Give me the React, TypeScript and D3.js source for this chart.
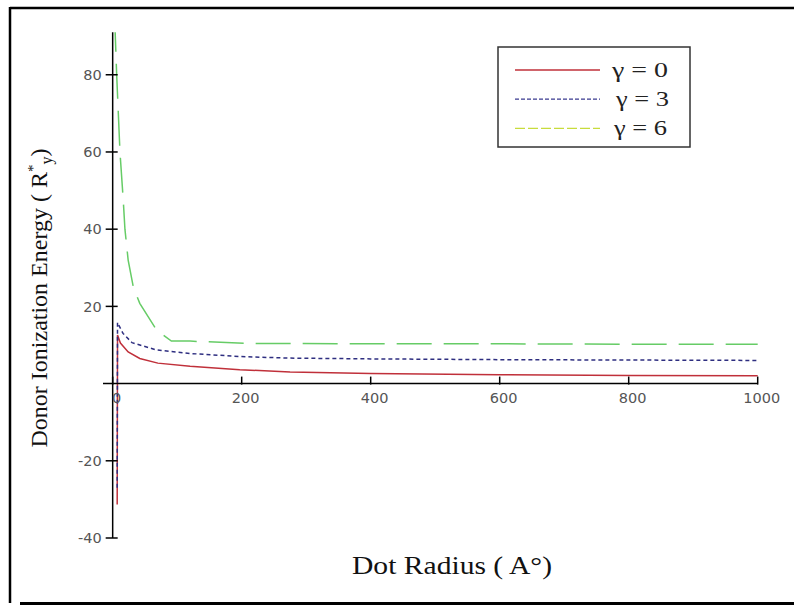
import * as d3 from "d3";

// series (dot radius in A°, energy in R*y)
const redRadius = [7, 7.5, 12, 24, 42, 70, 120, 197, 275, 400, 600, 800, 1000];
const redEnergy = [-31.3, 12.6, 10.5, 8.2, 6.5, 5.3, 4.5, 3.6, 3.0, 2.6, 2.3, 2.1, 2.0];

const blueRadius = [7, 7.5, 16, 30, 68, 120, 197, 275, 400, 600, 800, 1000];
const blueEnergy = [-27, 15.8, 13, 10.6, 8.7, 7.8, 7.0, 6.6, 6.4, 6.2, 6.1, 6.0];

const greenRadius = [3, 6.2, 11.3, 16.4, 19, 24, 32, 42, 68, 91, 120, 213, 400, 600, 800, 1000];
const greenEnergy = [95, 80, 60, 47.5, 40, 32, 25, 20.8, 13.9, 11.0, 11.0, 10.4, 10.3, 10.3, 10.2, 10.2];

const legendLabels = ["γ = 0", "γ = 3", "γ = 6"];
const xTicks = [0, 200, 400, 600, 800, 1000];
const yTicks = [-40, -20, 20, 40, 60, 80];

const W = 794;
const H = 605;

const x = d3.scaleLinear().domain([-15, 1000]).range([103, 757.7]);
const y = d3.scaleLinear().domain([-40, 91]).range([538, 32.3]);

const toPts = (xs: number[], ys: number[]) => xs.map((v, i) => [v, ys[i]] as [number, number]);

const line = d3
  .line<[number, number]>()
  .x((d) => x(d[0]))
  .y((d) => y(d[1]));

const series = [
  { pts: toPts(redRadius, redEnergy), color: "#c0303a", dash: "none", legColor: "#c0303a", legDash: "none" },
  { pts: toPts(blueRadius, blueEnergy), color: "#2e2e80", dash: "4,3", legColor: "#3a3a90", legDash: "4,2" },
  { pts: toPts(greenRadius, greenEnergy), color: "#66cc66", dash: "35,12", legColor: "#c8dc3c", legDash: "10,3" },
];

export default function App() {
  const x0 = x(0);
  const y0 = y(0);
  return (
    <svg width={W} height={H} style={{ position: "absolute", left: 0, top: 0, background: "#fff" }}>
      <defs>
        <clipPath id="plotClip">
          <rect x={x(-15)} y={y(91)} width={x(1000) - x(-15) + 2} height={y(-40) - y(91)} />
        </clipPath>
      </defs>
      {/* frame */}
      <line x1={10} y1={8} x2={W} y2={8} stroke="#000" strokeWidth={2.5} />
      <line x1={10} y1={7} x2={10} y2={603} stroke="#000" strokeWidth={2.5} />
      <line x1={20} y1={603.5} x2={W} y2={603.5} stroke="#000" strokeWidth={3} />

      {/* curves */}
      <g clipPath="url(#plotClip)" fill="none">
        {series.map((s, i) => (
          <path key={i} d={line(s.pts) ?? ""} stroke={s.color} strokeWidth={1.5} strokeDasharray={s.dash} />
        ))}
      </g>

      {/* axes */}
      <g stroke="#000" strokeWidth={1.5}>
        <line x1={x0} y1={y(91)} x2={x0} y2={y(-40)} />
        <line x1={x(-15)} y1={y0} x2={x(1000)} y2={y0} />
        {yTicks.map((t) => (
          <line key={t} x1={x0 - 7} x2={x0 + 5} y1={y(t)} y2={y(t)} />
        ))}
        {xTicks.map((t) => (
          <line key={t} x1={x(t)} x2={x(t)} y1={y0 - 7} y2={y0 + 1} />
        ))}
      </g>
      <g fontFamily="DejaVu Sans" fontSize={14.5} fill="#555">
        {yTicks.map((t) => (
          <text key={t} x={x0 - 11} y={y(t)} dy="0.36em" textAnchor="end">
            {t}
          </text>
        ))}
        {xTicks.map((t) => (
          <text key={t} x={x(t) + 4} y={y0 + 19} textAnchor="middle">
            {t}
          </text>
        ))}
      </g>

      {/* axis titles */}
      <text
        x={352}
        y={574}
        textLength={200}
        lengthAdjust="spacingAndGlyphs"
        fontFamily="Liberation Serif"
        fontSize={26}
        fill="#111"
      >
        Dot Radius ( A°)
      </text>
      <text
        transform="translate(47,298) rotate(-90)"
        textAnchor="middle"
        fontFamily="Liberation Serif"
        fontSize={24}
        fill="#111"
      >
        Donor Ionization Energy ( R
        <tspan dy={-9} fontSize={15}>*</tspan>
        <tspan dy={14} fontSize={16}>y</tspan>
        <tspan dy={-5}>)</tspan>
      </text>

      {/* legend */}
      <rect x={498} y={47} width={192} height={100} fill="#fff" stroke="#333" strokeWidth={1.5} />
      {series.map((s, i) => (
        <g key={i}>
          <line
            x1={515}
            x2={600}
            y1={70 + i * 29.2}
            y2={70 + i * 29.2}
            stroke={s.legColor}
            strokeWidth={1.3}
            strokeDasharray={s.legDash}
          />
          <text
            x={612 + (i === 1 ? 4 : i === 2 ? 2 : 0)}
            y={77 + i * 29.2}
            textLength={i === 0 ? 56 : 53}
            lengthAdjust="spacingAndGlyphs"
            fontFamily="Liberation Serif"
            fontSize={21}
            fill="#222"
          >
            {legendLabels[i]}
          </text>
        </g>
      ))}
    </svg>
  );
}
